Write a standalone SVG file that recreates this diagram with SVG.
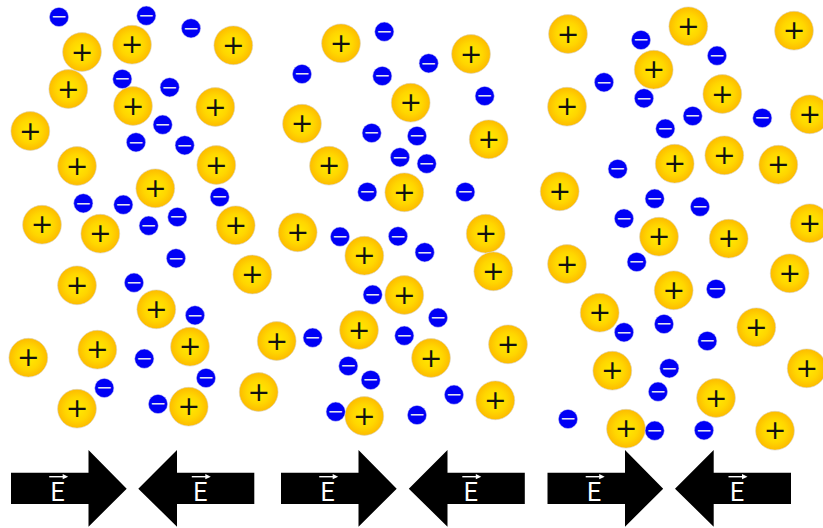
<svg xmlns="http://www.w3.org/2000/svg" width="823" height="528" viewBox="0 0 823 528">
<style>
.pos{fill:url(#glow);stroke:#d6d2c6;stroke-width:.6}
.neg{fill:#0000f5;stroke:#c9c9f4;stroke-width:.5}
.pl{font:27px "DejaVu Sans",sans-serif;fill:#111;text-anchor:middle}
.mi{font:20px "DejaVu Sans",sans-serif;fill:#e2e2f4;text-anchor:middle}
.field{font:25px Roboto,"Liberation Sans",sans-serif;fill:#fff;text-anchor:middle}
.vec{stroke:#fff;stroke-width:1.4;fill:none}
.tip{fill:#fff}
</style>
<defs>
<radialGradient id="glow"><stop offset="0" stop-color="#ffec00"/><stop offset=".6" stop-color="#ffd600"/><stop offset="1" stop-color="#fdbb00"/></radialGradient>
<circle id="p" class="pos" r="19.4"/>
<circle id="n" class="neg" r="9.6"/>
<polygon id="ar" points="0,-16 77.5,-16 77.5,-38.7 115.7,0 77.5,38 77.5,15.3 0,15.3"/>
<polygon id="al" points="0,0 38.7,-38.7 38.7,-16 116,-16 116,15.3 38.7,15.3 38.7,38"/>
<g id="vector"><path class="vec" d="M-9.5 0H7"/><path class="tip" d="M4 -2.6L9.5 0L4 2.6Z"/></g>
</defs>
<g id="panel-left">
<g id="a-p1" transform="translate(82,52)"><use href="#p"/><text class="pl" y="8.5">+</text></g>
<g id="a-p2" transform="translate(132,44.7)"><use href="#p"/><text class="pl" y="8.5">+</text></g>
<g id="a-p3" transform="translate(233.3,45.3)"><use href="#p"/><text class="pl" y="8.5">+</text></g>
<g id="a-p4" transform="translate(68.3,89)"><use href="#p"/><text class="pl" y="8.5">+</text></g>
<g id="a-p5" transform="translate(133,106)"><use href="#p"/><text class="pl" y="8.5">+</text></g>
<g id="a-p6" transform="translate(215.3,107)"><use href="#p"/><text class="pl" y="8.5">+</text></g>
<g id="a-p7" transform="translate(30.3,131)"><use href="#p"/><text class="pl" y="8.5">+</text></g>
<g id="a-p8" transform="translate(77,166)"><use href="#p"/><text class="pl" y="8.5">+</text></g>
<g id="a-p9" transform="translate(216.3,165)"><use href="#p"/><text class="pl" y="8.5">+</text></g>
<g id="a-p10" transform="translate(155.3,188.3)"><use href="#p"/><text class="pl" y="8.5">+</text></g>
<g id="a-p11" transform="translate(42,224.7)"><use href="#p"/><text class="pl" y="8.5">+</text></g>
<g id="a-p12" transform="translate(100.3,233.7)"><use href="#p"/><text class="pl" y="8.5">+</text></g>
<g id="a-p13" transform="translate(235.7,225.3)"><use href="#p"/><text class="pl" y="8.5">+</text></g>
<g id="a-p14" transform="translate(77,285.3)"><use href="#p"/><text class="pl" y="8.5">+</text></g>
<g id="a-p15" transform="translate(252.3,274.5)"><use href="#p"/><text class="pl" y="8.5">+</text></g>
<g id="a-p16" transform="translate(156.3,309.3)"><use href="#p"/><text class="pl" y="8.5">+</text></g>
<g id="a-p17" transform="translate(190,346.7)"><use href="#p"/><text class="pl" y="8.5">+</text></g>
<g id="a-p18" transform="translate(97.3,349.7)"><use href="#p"/><text class="pl" y="8.5">+</text></g>
<g id="a-p19" transform="translate(28.3,357.7)"><use href="#p"/><text class="pl" y="8.5">+</text></g>
<g id="a-p20" transform="translate(258.7,392)"><use href="#p"/><text class="pl" y="8.5">+</text></g>
<g id="a-p21" transform="translate(77,408.7)"><use href="#p"/><text class="pl" y="8.5">+</text></g>
<g id="a-p22" transform="translate(188.7,406.7)"><use href="#p"/><text class="pl" y="8.5">+</text></g>
<g id="a-n1" transform="translate(59,17)"><use href="#n"/><text class="mi" y="6.3">−</text></g>
<g id="a-n2" transform="translate(146.3,15.7)"><use href="#n"/><text class="mi" y="6.3">−</text></g>
<g id="a-n3" transform="translate(191,28.3)"><use href="#n"/><text class="mi" y="6.3">−</text></g>
<g id="a-n4" transform="translate(122.3,79)"><use href="#n"/><text class="mi" y="6.3">−</text></g>
<g id="a-n5" transform="translate(169.7,87.3)"><use href="#n"/><text class="mi" y="6.3">−</text></g>
<g id="a-n6" transform="translate(162.7,124.7)"><use href="#n"/><text class="mi" y="6.3">−</text></g>
<g id="a-n7" transform="translate(136,142.3)"><use href="#n"/><text class="mi" y="6.3">−</text></g>
<g id="a-n8" transform="translate(184.7,145.3)"><use href="#n"/><text class="mi" y="6.3">−</text></g>
<g id="a-n9" transform="translate(219.7,197)"><use href="#n"/><text class="mi" y="6.3">−</text></g>
<g id="a-n10" transform="translate(83.3,203.3)"><use href="#n"/><text class="mi" y="6.3">−</text></g>
<g id="a-n11" transform="translate(123.3,204.7)"><use href="#n"/><text class="mi" y="6.3">−</text></g>
<g id="a-n12" transform="translate(148.7,225.7)"><use href="#n"/><text class="mi" y="6.3">−</text></g>
<g id="a-n13" transform="translate(177.3,217)"><use href="#n"/><text class="mi" y="6.3">−</text></g>
<g id="a-n14" transform="translate(176,258.3)"><use href="#n"/><text class="mi" y="6.3">−</text></g>
<g id="a-n15" transform="translate(134,282.7)"><use href="#n"/><text class="mi" y="6.3">−</text></g>
<g id="a-n16" transform="translate(195,315.3)"><use href="#n"/><text class="mi" y="6.3">−</text></g>
<g id="a-n17" transform="translate(144.3,358.7)"><use href="#n"/><text class="mi" y="6.3">−</text></g>
<g id="a-n18" transform="translate(206,378)"><use href="#n"/><text class="mi" y="6.3">−</text></g>
<g id="a-n19" transform="translate(104.3,388)"><use href="#n"/><text class="mi" y="6.3">−</text></g>
<g id="a-n20" transform="translate(158,404)"><use href="#n"/><text class="mi" y="6.3">−</text></g>
</g>
<g id="panel-middle">
<g id="b-p1" transform="translate(341,43.3)"><use href="#p"/><text class="pl" y="8.5">+</text></g>
<g id="b-p2" transform="translate(471,54)"><use href="#p"/><text class="pl" y="8.5">+</text></g>
<g id="b-p3" transform="translate(410.7,102.7)"><use href="#p"/><text class="pl" y="8.5">+</text></g>
<g id="b-p4" transform="translate(302,123.7)"><use href="#p"/><text class="pl" y="8.5">+</text></g>
<g id="b-p5" transform="translate(488.7,139.3)"><use href="#p"/><text class="pl" y="8.5">+</text></g>
<g id="b-p6" transform="translate(329,165.7)"><use href="#p"/><text class="pl" y="8.5">+</text></g>
<g id="b-p7" transform="translate(404.3,192.3)"><use href="#p"/><text class="pl" y="8.5">+</text></g>
<g id="b-p8" transform="translate(297.7,232.3)"><use href="#p"/><text class="pl" y="8.5">+</text></g>
<g id="b-p9" transform="translate(364.3,255.7)"><use href="#p"/><text class="pl" y="8.5">+</text></g>
<g id="b-p10" transform="translate(485.7,233.7)"><use href="#p"/><text class="pl" y="8.5">+</text></g>
<g id="b-p11" transform="translate(493.3,271.3)"><use href="#p"/><text class="pl" y="8.5">+</text></g>
<g id="b-p12" transform="translate(404.3,295)"><use href="#p"/><text class="pl" y="8.5">+</text></g>
<g id="b-p13" transform="translate(359,330)"><use href="#p"/><text class="pl" y="8.5">+</text></g>
<g id="b-p14" transform="translate(276.7,341)"><use href="#p"/><text class="pl" y="8.5">+</text></g>
<g id="b-p15" transform="translate(431,358)"><use href="#p"/><text class="pl" y="8.5">+</text></g>
<g id="b-p16" transform="translate(508,344.3)"><use href="#p"/><text class="pl" y="8.5">+</text></g>
<g id="b-p17" transform="translate(495.3,400.3)"><use href="#p"/><text class="pl" y="8.5">+</text></g>
<g id="b-p18" transform="translate(364.3,416)"><use href="#p"/><text class="pl" y="8.5">+</text></g>
<g id="b-n1" transform="translate(384.3,31.7)"><use href="#n"/><text class="mi" y="6.3">−</text></g>
<g id="b-n2" transform="translate(428.7,63.3)"><use href="#n"/><text class="mi" y="6.3">−</text></g>
<g id="b-n3" transform="translate(302,74)"><use href="#n"/><text class="mi" y="6.3">−</text></g>
<g id="b-n4" transform="translate(382.3,76)"><use href="#n"/><text class="mi" y="6.3">−</text></g>
<g id="b-n5" transform="translate(484.7,96)"><use href="#n"/><text class="mi" y="6.3">−</text></g>
<g id="b-n6" transform="translate(371.7,133)"><use href="#n"/><text class="mi" y="6.3">−</text></g>
<g id="b-n7" transform="translate(417,136)"><use href="#n"/><text class="mi" y="6.3">−</text></g>
<g id="b-n8" transform="translate(400,157.3)"><use href="#n"/><text class="mi" y="6.3">−</text></g>
<g id="b-n9" transform="translate(426.7,163.7)"><use href="#n"/><text class="mi" y="6.3">−</text></g>
<g id="b-n10" transform="translate(367.3,192)"><use href="#n"/><text class="mi" y="6.3">−</text></g>
<g id="b-n11" transform="translate(465.3,192)"><use href="#n"/><text class="mi" y="6.3">−</text></g>
<g id="b-n12" transform="translate(340,236.7)"><use href="#n"/><text class="mi" y="6.3">−</text></g>
<g id="b-n13" transform="translate(398,236.3)"><use href="#n"/><text class="mi" y="6.3">−</text></g>
<g id="b-n14" transform="translate(424.7,252.3)"><use href="#n"/><text class="mi" y="6.3">−</text></g>
<g id="b-n15" transform="translate(372.7,294.7)"><use href="#n"/><text class="mi" y="6.3">−</text></g>
<g id="b-n16" transform="translate(438,317.7)"><use href="#n"/><text class="mi" y="6.3">−</text></g>
<g id="b-n17" transform="translate(312.7,337.7)"><use href="#n"/><text class="mi" y="6.3">−</text></g>
<g id="b-n18" transform="translate(404.3,335.7)"><use href="#n"/><text class="mi" y="6.3">−</text></g>
<g id="b-n19" transform="translate(348.3,366)"><use href="#n"/><text class="mi" y="6.3">−</text></g>
<g id="b-n20" transform="translate(370.7,380)"><use href="#n"/><text class="mi" y="6.3">−</text></g>
<g id="b-n21" transform="translate(454,394.7)"><use href="#n"/><text class="mi" y="6.3">−</text></g>
<g id="b-n22" transform="translate(335.7,411.7)"><use href="#n"/><text class="mi" y="6.3">−</text></g>
<g id="b-n23" transform="translate(417,415)"><use href="#n"/><text class="mi" y="6.3">−</text></g>
</g>
<g id="panel-right">
<g id="c-p1" transform="translate(568,34)"><use href="#p"/><text class="pl" y="8.5">+</text></g>
<g id="c-p2" transform="translate(688.3,26.3)"><use href="#p"/><text class="pl" y="8.5">+</text></g>
<g id="c-p3" transform="translate(794,30.7)"><use href="#p"/><text class="pl" y="8.5">+</text></g>
<g id="c-p4" transform="translate(653.7,69.7)"><use href="#p"/><text class="pl" y="8.5">+</text></g>
<g id="c-p5" transform="translate(722.3,94)"><use href="#p"/><text class="pl" y="8.5">+</text></g>
<g id="c-p6" transform="translate(567,106.7)"><use href="#p"/><text class="pl" y="8.5">+</text></g>
<g id="c-p7" transform="translate(809.7,114.3)"><use href="#p"/><text class="pl" y="8.5">+</text></g>
<g id="c-p8" transform="translate(724.3,155.3)"><use href="#p"/><text class="pl" y="8.5">+</text></g>
<g id="c-p9" transform="translate(674.7,163.7)"><use href="#p"/><text class="pl" y="8.5">+</text></g>
<g id="c-p10" transform="translate(778.3,164.7)"><use href="#p"/><text class="pl" y="8.5">+</text></g>
<g id="c-p11" transform="translate(559.7,191.3)"><use href="#p"/><text class="pl" y="8.5">+</text></g>
<g id="c-p12" transform="translate(659,236.7)"><use href="#p"/><text class="pl" y="8.5">+</text></g>
<g id="c-p13" transform="translate(728.7,238.7)"><use href="#p"/><text class="pl" y="8.5">+</text></g>
<g id="c-p14" transform="translate(809.7,223.3)"><use href="#p"/><text class="pl" y="8.5">+</text></g>
<g id="c-p15" transform="translate(567,264)"><use href="#p"/><text class="pl" y="8.5">+</text></g>
<g id="c-p16" transform="translate(789.7,273.3)"><use href="#p"/><text class="pl" y="8.5">+</text></g>
<g id="c-p17" transform="translate(673.7,290.3)"><use href="#p"/><text class="pl" y="8.5">+</text></g>
<g id="c-p18" transform="translate(599.7,312.7)"><use href="#p"/><text class="pl" y="8.5">+</text></g>
<g id="c-p19" transform="translate(756.3,327.3)"><use href="#p"/><text class="pl" y="8.5">+</text></g>
<g id="c-p20" transform="translate(612.3,370.7)"><use href="#p"/><text class="pl" y="8.5">+</text></g>
<g id="c-p21" transform="translate(806.7,368.3)"><use href="#p"/><text class="pl" y="8.5">+</text></g>
<g id="c-p22" transform="translate(716,398)"><use href="#p"/><text class="pl" y="8.5">+</text></g>
<g id="c-p23" transform="translate(626,428.7)"><use href="#p"/><text class="pl" y="8.5">+</text></g>
<g id="c-p24" transform="translate(775,430.7)"><use href="#p"/><text class="pl" y="8.5">+</text></g>
<g id="c-n1" transform="translate(641,40)"><use href="#n"/><text class="mi" y="6.3">−</text></g>
<g id="c-n2" transform="translate(717,55.7)"><use href="#n"/><text class="mi" y="6.3">−</text></g>
<g id="c-n3" transform="translate(604,82.3)"><use href="#n"/><text class="mi" y="6.3">−</text></g>
<g id="c-n4" transform="translate(644,98.3)"><use href="#n"/><text class="mi" y="6.3">−</text></g>
<g id="c-n5" transform="translate(692.7,116)"><use href="#n"/><text class="mi" y="6.3">−</text></g>
<g id="c-n6" transform="translate(762.3,118)"><use href="#n"/><text class="mi" y="6.3">−</text></g>
<g id="c-n7" transform="translate(665.3,128.7)"><use href="#n"/><text class="mi" y="6.3">−</text></g>
<g id="c-n8" transform="translate(617.7,169)"><use href="#n"/><text class="mi" y="6.3">−</text></g>
<g id="c-n9" transform="translate(654.7,198.7)"><use href="#n"/><text class="mi" y="6.3">−</text></g>
<g id="c-n10" transform="translate(700,206.7)"><use href="#n"/><text class="mi" y="6.3">−</text></g>
<g id="c-n11" transform="translate(624,218.5)"><use href="#n"/><text class="mi" y="6.3">−</text></g>
<g id="c-n12" transform="translate(636.7,262)"><use href="#n"/><text class="mi" y="6.3">−</text></g>
<g id="c-n13" transform="translate(716,289)"><use href="#n"/><text class="mi" y="6.3">−</text></g>
<g id="c-n14" transform="translate(664,324)"><use href="#n"/><text class="mi" y="6.3">−</text></g>
<g id="c-n15" transform="translate(624,332.3)"><use href="#n"/><text class="mi" y="6.3">−</text></g>
<g id="c-n16" transform="translate(707.3,341)"><use href="#n"/><text class="mi" y="6.3">−</text></g>
<g id="c-n17" transform="translate(669.3,368.3)"><use href="#n"/><text class="mi" y="6.3">−</text></g>
<g id="c-n18" transform="translate(658,391.7)"><use href="#n"/><text class="mi" y="6.3">−</text></g>
<g id="c-n19" transform="translate(568,419)"><use href="#n"/><text class="mi" y="6.3">−</text></g>
<g id="c-n20" transform="translate(654.7,430.7)"><use href="#n"/><text class="mi" y="6.3">−</text></g>
<g id="c-n21" transform="translate(704,430.3)"><use href="#n"/><text class="mi" y="6.3">−</text></g>
</g>
<g id="field-arrows">
<g id="e1" transform="translate(11,488.7)"><use href="#ar"/><text class="field" x="46.7" y="12.5">E</text><use href="#vector" x="47.7" y="-12"/></g>
<g id="e2" transform="translate(138.3,488.7)"><use href="#al"/><text class="field" x="62" y="12.5">E</text><use href="#vector" x="63" y="-12"/></g>
<g id="e3" transform="translate(281,488.7)"><use href="#ar"/><text class="field" x="46.7" y="12.5">E</text><use href="#vector" x="47.7" y="-12"/></g>
<g id="e4" transform="translate(408.8,488.7)"><use href="#al"/><text class="field" x="62" y="12.5">E</text><use href="#vector" x="63" y="-12"/></g>
<g id="e5" transform="translate(547.5,488.7)"><use href="#ar"/><text class="field" x="46.7" y="12.5">E</text><use href="#vector" x="47.7" y="-12"/></g>
<g id="e6" transform="translate(675,488.7)"><use href="#al"/><text class="field" x="62" y="12.5">E</text><use href="#vector" x="63" y="-12"/></g>
</g>
</svg>
